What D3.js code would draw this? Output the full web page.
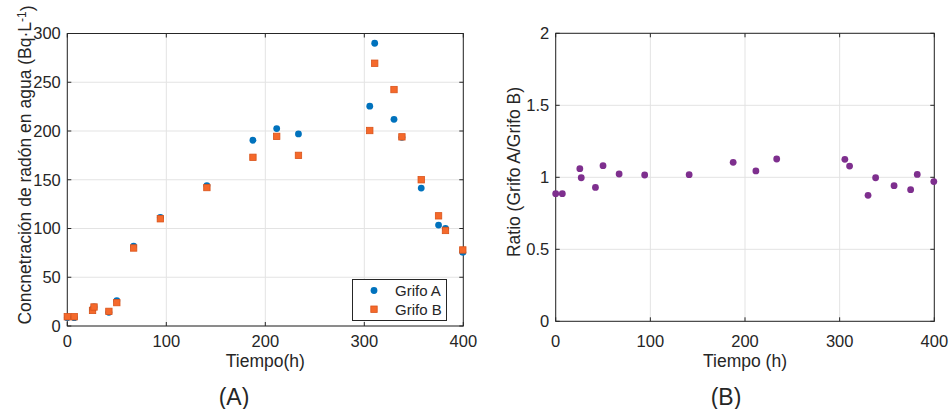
<!DOCTYPE html>
<html>
<head>
<meta charset="utf-8">
<script src="https://cdn.jsdelivr.net/npm/d3@7/dist/d3.min.js"></script>
<style>
  body { margin: 0; background: #fff; }
  text { font-family: "Liberation Sans", Arial, sans-serif; fill: #262626; }
</style>
</head>
<body>
<div id="chart"></div>
<script>
// data
var tiempo = [0, 7, 25.5, 27, 42, 50, 67, 94, 141, 187.5, 211.5, 233.5, 305.5, 310.5, 330, 338, 357.5, 375, 382, 399.5];
var grifoA = [8.5, 8.5, 17, 19.5, 14, 26, 82, 111.5, 144, 190.5, 202.5, 197, 225.5, 290, 212, 193.5, 141.5, 103.5, 100, 75.5];
var grifoB = [9.5, 9.5, 16, 19.5, 15, 24, 80, 110, 142, 173, 194.5, 175, 200.5, 269.5, 242.5, 194, 150, 113, 98, 78];
var ratio = [0.886, 0.886, 1.06, 0.997, 0.93, 1.081, 1.023, 1.016, 1.018, 1.104, 1.044, 1.127, 1.125, 1.078, 0.875, 0.997, 0.942, 0.914, 1.02, 0.97];

var xTicks = [0, 100, 200, 300, 400];
var yTicksA = [0, 50, 100, 150, 200, 250, 300];
var yTicksB = [0, 0.5, 1, 1.5, 2];

var w = 949, h = 409;
var axisCol = '#262626', gridCol = '#e3e3e3';

var svg = d3.select('#chart').append('svg')
    .attr('width', w)
    .attr('height', h);

function panel(o) {
  var x = d3.scaleLinear().domain([0, 400]).range([o.left, o.right]);
  var y = d3.scaleLinear().domain(o.ydom).range([o.bottom, o.top]);
  var g = svg.append('g');

  //grid
  g.selectAll('.gx').data(xTicks).enter().append('line')
    .attr('x1', x).attr('x2', x)
    .attr('y1', o.top).attr('y2', o.bottom)
    .attr('stroke', gridCol).attr('stroke-width', 1);
  g.selectAll('.gy').data(o.yticks).enter().append('line')
    .attr('x1', o.left).attr('x2', o.right)
    .attr('y1', y).attr('y2', y)
    .attr('stroke', gridCol).attr('stroke-width', 1);

  //ticks on all four sides, pointing in
  var tl = 4;
  xTicks.forEach(function(t) {
    g.append('line').attr('x1', x(t)).attr('x2', x(t)).attr('y1', o.bottom).attr('y2', o.bottom - tl)
      .attr('stroke', axisCol);
    g.append('line').attr('x1', x(t)).attr('x2', x(t)).attr('y1', o.top).attr('y2', o.top + tl)
      .attr('stroke', axisCol);
  });
  o.yticks.forEach(function(t) {
    g.append('line').attr('x1', o.left).attr('x2', o.left + tl).attr('y1', y(t)).attr('y2', y(t))
      .attr('stroke', axisCol);
    g.append('line').attr('x1', o.right).attr('x2', o.right - tl).attr('y1', y(t)).attr('y2', y(t))
      .attr('stroke', axisCol);
  });

  //tick labels
  g.selectAll('.tx').data(xTicks).enter().append('text')
    .attr('x', x).attr('y', 347)
    .attr('text-anchor', 'middle')
    .style('font-size', '16.5px')
    .text(function(d) { return d; });
  g.selectAll('.ty').data(o.yticks).enter().append('text')
    .attr('x', o.left - 6.5).attr('y', y)
    .attr('dy', '0.36em')
    .attr('text-anchor', 'end')
    .style('font-size', '16.5px')
    .text(function(d) { return d; });

  //x label + panel letter
  g.append('text')
    .attr('x', (o.left + o.right) / 2).attr('y', 367)
    .attr('text-anchor', 'middle')
    .style('font-size', '17.5px')
    .text(o.xlabel);
  g.append('text')
    .attr('x', o.letterX).attr('y', 405)
    .attr('text-anchor', 'middle')
    .style('font-size', '23px')
    .text(o.letter);

  return { g: g, x: x, y: y, box: function() {
    g.append('rect')
      .attr('x', o.left).attr('y', o.top)
      .attr('width', o.right - o.left).attr('height', o.bottom - o.top)
      .attr('fill', 'none').attr('stroke', axisCol).attr('stroke-width', 1);
  } };
}

// ---- panel A
var pA = panel({ left: 67.3, right: 463.3, top: 33.5, bottom: 326, ydom: [0, 300],
  yticks: yTicksA, xlabel: 'Tiempo(h)', letter: '(A)', letterX: 234 });
pA.box();

var ylabA = pA.g.append('text')
  .attr('transform', 'translate(31,165) rotate(-90)')
  .attr('text-anchor', 'middle')
  .style('font-size', '17.5px');
ylabA.append('tspan').text('Concnetración de radón en agua (Bq·L');
ylabA.append('tspan').attr('dy', '-0.45em').style('font-size', '12px').text('-1');
ylabA.append('tspan').attr('dy', '0.45em').text(')');

pA.g.selectAll('.ma').data(tiempo).enter().append('circle')
  .attr('cx', function(d) { return pA.x(d); })
  .attr('cy', function(d, i) { return pA.y(grifoA[i]); })
  .attr('r', 3.4)
  .attr('fill', '#0072BD');

pA.g.selectAll('.mb').data(tiempo).enter().append('rect')
  .attr('x', function(d) { return pA.x(d) - 3.2; })
  .attr('y', function(d, i) { return pA.y(grifoB[i]) - 3.2; })
  .attr('width', 6.4).attr('height', 6.4)
  .attr('fill', '#F5692B')
  .attr('stroke', '#D95319').attr('stroke-width', 0.8);

//legend
var lg = pA.g.append('g');
lg.append('rect').attr('x', 352.5).attr('y', 279.5).attr('width', 94).attr('height', 41)
  .attr('fill', '#fff').attr('stroke', axisCol).attr('stroke-width', 1);
lg.append('circle').attr('cx', 374).attr('cy', 290.5).attr('r', 3.4).attr('fill', '#0072BD');
lg.append('rect').attr('x', 370.8).attr('y', 306).attr('width', 6.4).attr('height', 6.4)
  .attr('fill', '#F5692B').attr('stroke', '#D95319').attr('stroke-width', 0.8);
lg.append('text').attr('x', 395).attr('y', 296).style('font-size', '15px').text('Grifo A');
lg.append('text').attr('x', 395).attr('y', 314.5).style('font-size', '15px').text('Grifo B');

// ---- panel B
var pB = panel({ left: 555.7, right: 934.3, top: 33.3, bottom: 321.3, ydom: [0, 2],
  yticks: yTicksB, xlabel: 'Tiempo (h)', letter: '(B)', letterX: 726 });
pB.box();

pB.g.append('text')
  .attr('transform', 'translate(520,172) rotate(-90)')
  .attr('text-anchor', 'middle')
  .style('font-size', '17.5px')
  .text('Ratio (Grifo A/Grifo B)');

pB.g.selectAll('.mr').data(tiempo).enter().append('circle')
  .attr('cx', function(d) { return pB.x(d); })
  .attr('cy', function(d, i) { return pB.y(ratio[i]); })
  .attr('r', 3.4)
  .attr('fill', '#7E2F8E');
</script>
</body>
</html>
